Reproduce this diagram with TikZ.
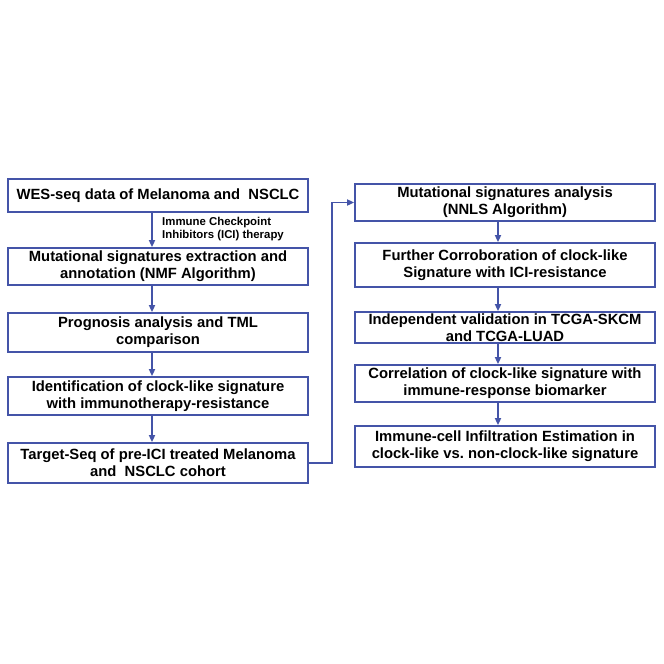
\documentclass[tikz,border=0pt]{standalone}
\usepackage{fontspec}
\setmainfont{Liberation Sans}
\usetikzlibrary{arrows.meta}
\definecolor{flowblue}{RGB}{68,84,168}
\frenchspacing
\tikzset{
  stepbox/.style={draw=flowblue, line width=1.8pt, minimum width=300pt, align=center,
    inner sep=0pt, font=\fontsize{14.8}{17}\selectfont\bfseries},
  flow/.style={draw=flowblue, line width=1.8pt, -{Triangle[width=6pt,length=7pt]}}
}
\begin{document}
\begin{tikzpicture}[x=1pt,y=-1pt]
    \useasboundingbox (0,0) rectangle (664,664);
    % left column
    \node[stepbox, minimum height=33pt] (wes) at (158,195.5) {WES-seq data of Melanoma and\ \ NSCLC};
    \node[stepbox, minimum height=37pt] (nmf) at (158,266.5) {Mutational signatures extraction and\\annotation (NMF Algorithm)};
    \node[stepbox, minimum height=39pt] (prog) at (158,332.5) {Prognosis analysis and TML\\comparison};
    \node[stepbox, minimum height=38pt] (ident) at (158,396) {Identification of clock-like signature\\with immunotherapy-resistance};
    \node[stepbox, minimum height=40pt] (target) at (158,463) {Target-Seq of pre-ICI treated Melanoma\\and\ \ NSCLC cohort};
    \node[anchor=north west, align=left, inner sep=0pt, font=\fontsize{11.4}{13}\selectfont\bfseries] (ici) at (162,217.5)
        {Immune Checkpoint\\Inhibitors (ICI) therapy};

    % right column
    \node[stepbox, minimum height=37pt] (nnls) at (505,202.5) {Mutational signatures analysis\\(NNLS Algorithm)};
    \node[stepbox, minimum height=44pt] (corr) at (505,265) {Further Corroboration of clock-like\\Signature with ICI-resistance};
    \node[stepbox, minimum height=31pt] (tcga) at (505,327.5) {Independent validation in TCGA-SKCM\\and TCGA-LUAD};
    \node[stepbox, minimum height=37pt] (bio) at (505,383.5) {Correlation of clock-like signature with\\immune-response biomarker};
    \node[stepbox, minimum height=41pt] (infil) at (505,446.5) {Immune-cell Infiltration Estimation in\\clock-like vs. non-clock-like signature};

    % arrows
    \draw[flow] ([xshift=-6pt]wes.south) -- ([xshift=-6pt]nmf.north);
    \draw[flow] ([xshift=-6pt]nmf.south) -- ([xshift=-6pt]prog.north);
    \draw[flow] ([xshift=-6pt]prog.south) -- ([xshift=-6pt]ident.north);
    \draw[flow] ([xshift=-6pt]ident.south) -- ([xshift=-6pt]target.north);
    \draw[flow] (target.east) -- ++(23,0) |- (nnls.west);
    \draw[flow] ([xshift=-7pt]nnls.south) -- ([xshift=-7pt]corr.north);
    \draw[flow] ([xshift=-7pt]corr.south) -- ([xshift=-7pt]tcga.north);
    \draw[flow] ([xshift=-7pt]tcga.south) -- ([xshift=-7pt]bio.north);
    \draw[flow] ([xshift=-7pt]bio.south) -- ([xshift=-7pt]infil.north);
\end{tikzpicture}
\end{document}
